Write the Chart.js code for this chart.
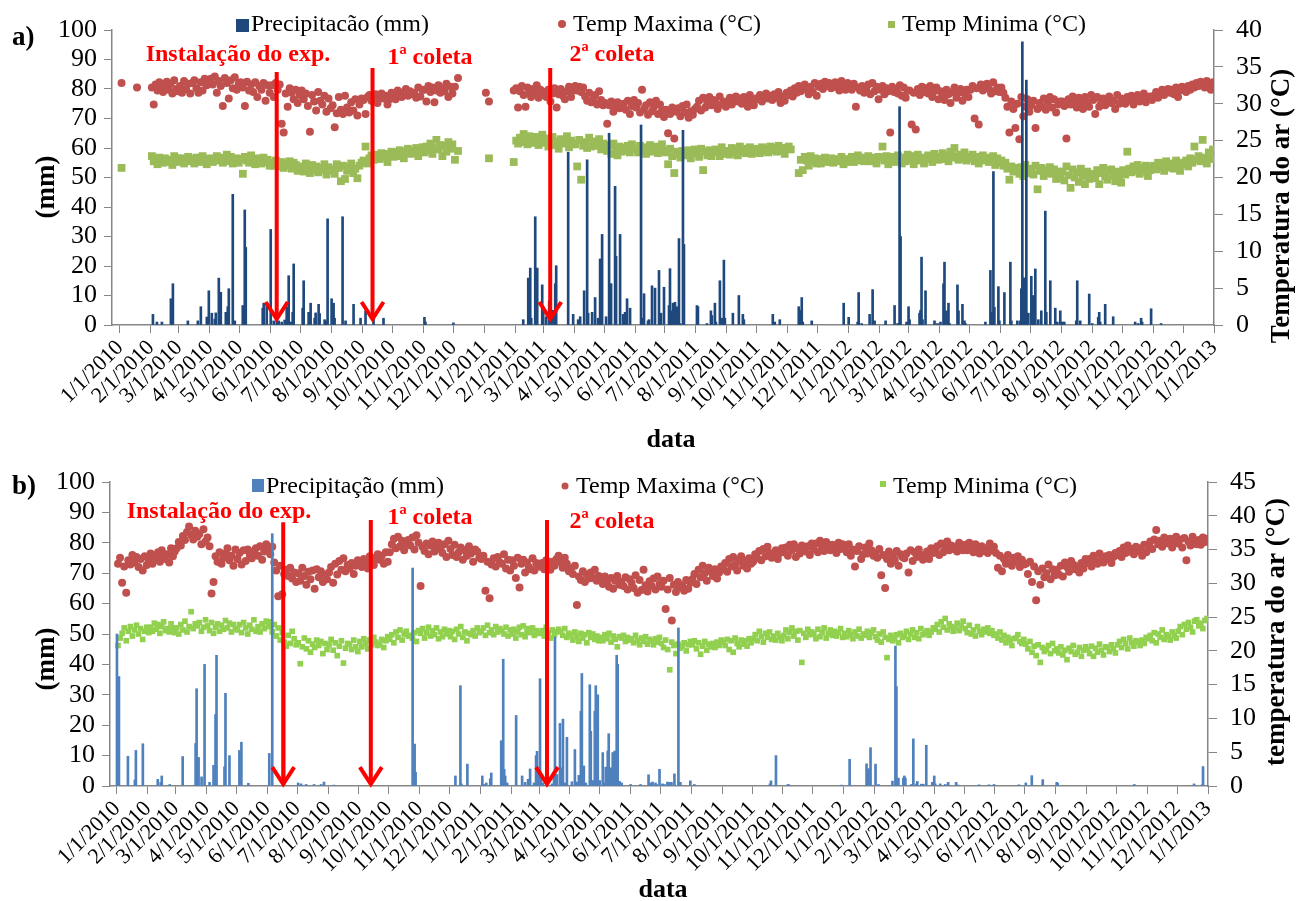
<!DOCTYPE html>
<html>
<head>
<meta charset="utf-8">
<script src="https://cdn.jsdelivr.net/npm/chart.js@4.4.1/dist/chart.umd.min.js"></script>
<style>
  html, body { margin: 0; padding: 0; background: #fff; }
  #wrap { position: relative; width: 1296px; height: 901px; overflow: hidden; }
  #wrap canvas { position: absolute; left: 0; }
  #chartA { top: 0; }
  #chartB { top: 450px; }
</style>
</head>
<body>
<div id="wrap">
  <canvas id="chartA" width="1296" height="450"></canvas>
  <canvas id="chartB" width="1296" height="451"></canvas>
</div>
<script>
// x tick labels (month starts)
const monthLabels = [
  "1/1/2010", "2/1/2010", "3/1/2010", "4/1/2010", "5/1/2010", "6/1/2010", "7/1/2010", "8/1/2010", "9/1/2010", "10/1/2010", "11/1/2010", "12/1/2010",
  "1/1/2011", "2/1/2011", "3/1/2011", "4/1/2011", "5/1/2011", "6/1/2011", "7/1/2011", "8/1/2011", "9/1/2011", "10/1/2011", "11/1/2011", "12/1/2011",
  "1/1/2012", "2/1/2012", "3/1/2012", "4/1/2012", "5/1/2012", "6/1/2012", "7/1/2012", "8/1/2012", "9/1/2012", "10/1/2012", "11/1/2012", "12/1/2012",
  "1/1/2013"
];

// ---- panel a) ----
// temperatures, readings spread evenly over each month (Jan 2010 .. Dec 2012), null = no data
const tmaxA = [
  [32.8, null, null, null, null, 32.2, null, null, null, null],
  [32.2, 29.9, 32.6, 31.8, 32.9, 32.3, 31.6, 32.5, 33.0, 31.9, 32.7, 31.4, 33.2, 32.0, 31.7],
  [32.4, 31.5, 33.1, 32.0, 32.7, 31.4, 32.8, 33.2, 32.1, 31.5, 32.9, 31.8, 33.4, 32.5, 33.0],
  [33.4, 32.6, 33.7, 31.5, 33.1, 32.4, 29.7, 33.5, 32.8, 30.7, 33.2, 32.1, 33.6, 31.9, 32.7],
  [32.9, 32.2, 29.7, 33.0, 31.8, 32.6, 31.6, 32.9, 30.9, 32.4, 31.9, 32.8, 30.4, 32.5, 31.5],
  [32.5, 30.9, 32.8, 31.9, 32.6, 27.3, 26.1, 31.4, 29.6, 32.1, 31.5, 30.6, 31.9, 30.1, 31.2],
  [31.8, 30.6, 31.4, 29.7, 26.2, 31.2, 30.3, 29.1, 31.6, 30.4, 29.9, 31.1, 28.9, 30.7, 29.4],
  [29.8, 26.8, 28.7, 30.9, 29.2, 28.6, 31.1, 29.5, 28.8, 30.2, 29.1, 30.6, 28.4, 29.9, 30.7],
  [30.5, 28.6, 30.9, 31.2, 30.4, 30.8, 31.3, 30.1, 30.9, 31.4, 30.7, 31.1, 29.9, 30.6, 31.5],
  [31.2, 30.6, 31.8, 31.4, 30.9, 31.6, 32.0, 31.1, 31.7, 31.3, 31.5, 30.8, 32.2, 31.0, 31.9],
  [31.9, 30.3, 32.4, 31.6, 32.2, 30.2, 31.8, 32.5, 31.5, 32.1, 31.7, 32.7, 30.9, 32.3, 31.4],
  [32.3, 33.5, null, null, null, null, null, null, null, null],
  [31.5, 30.3, null, null, null, null, null, null, null, 31.8],
  [32.1, 29.5, 31.7, 32.4, 31.2, 29.6, 32.2, 31.5, 30.9, 32.0, 31.4, 32.5, 30.8, 31.9, 31.2],
  [31.6, 30.9, 31.9, 30.3, 31.4, 32.1, 29.5, 31.3, 32.0, 31.1, 30.6, 31.7, 32.3, 30.9, 31.8],
  [32.4, 31.8, 32.3, 31.6, 32.2, 31.0, 30.4, 31.5, 30.2, 30.6, 31.2, 29.9, 31.7, 30.5, 29.8],
  [30.1, 27.3, 29.8, 30.3, 28.9, 29.6, 30.2, 29.4, 29.9, 30.0, 29.2, 30.4, 28.6, 29.7, 30.5],
  [29.5, 30.1, 28.8, 31.9, 29.3, 29.8, 28.5, 30.2, 29.0, 29.6, 30.4, 28.6, 29.9, 29.1, 28.2],
  [29.2, 26.0, 28.6, 29.5, 25.3, 28.9, 29.4, 28.3, 29.7, 28.8, 29.9, 28.1, 29.0, 28.5, 29.3],
  [29.6, 30.4, 29.1, 30.8, 29.5, 30.2, 30.9, 29.8, 30.5, 30.1, 29.3, 31.0, 29.9, 30.3, 29.6],
  [30.2, 30.8, 29.9, 30.6, 31.0, 30.3, 30.7, 30.0, 30.9, 30.4, 29.6, 31.2, 30.5, 29.8, 30.7],
  [30.6, 31.2, 30.3, 30.9, 31.4, 30.7, 31.1, 30.5, 31.3, 30.8, 31.6, 30.1, 31.0, 30.4, 31.5],
  [31.2, 31.8, 31.0, 32.1, 31.5, 32.4, 31.7, 32.0, 32.6, 31.9, 31.3, 32.3, 31.6, 32.8, 31.1],
  [32.3, 32.7, 32.0, 33.0, 32.4, 32.8, 32.1, 32.6, 32.9, 32.2, 31.8, 33.1, 32.5, 31.9, 32.8],
  [32.5, 31.9, 32.7, 29.6, 32.2, 31.8, 32.4, 31.5, 32.0, 32.6, 31.3, 32.8, 31.7, 32.3, 30.6],
  [31.9, 32.4, 31.3, 32.1, 31.7, 26.1, 32.3, 31.6, 32.0, 31.4, 32.5, 31.1, 32.2, 30.8, 31.8],
  [31.8, 27.2, 31.5, 26.5, 32.0, 31.2, 32.3, 31.6, 32.1, 31.4, 32.4, 30.9, 31.7, 32.2, 30.6],
  [31.7, 31.2, 30.5, 31.9, 31.3, 30.1, 31.6, 32.2, 30.8, 31.5, 32.0, 30.4, 31.4, 31.9, 30.9],
  [31.9, 32.4, 28.0, 32.1, 27.2, 32.6, 31.8, 32.3, 32.7, 32.0, 31.4, 32.9, 31.7, 32.2, 31.6],
  [32.2, 31.5, 30.8, 29.6, 26.1, 30.3, 29.3, 26.7, 30.0, 25.2, 30.9, 28.3, 29.6, 30.6, 28.9],
  [29.8, 30.4, 26.7, 29.3, 30.1, 29.6, 30.7, 29.2, 30.2, 30.9, 29.5, 30.6, 28.8, 29.9, 30.3],
  [30.3, 29.7, 25.3, 30.6, 29.9, 31.0, 30.4, 29.5, 30.8, 30.1, 29.3, 30.9, 30.2, 29.6, 31.2],
  [30.5, 28.6, 30.9, 29.6, 30.2, 30.7, 29.8, 30.4, 31.0, 30.1, 30.4, 29.3, 31.2, 30.0, 30.7],
  [30.6, 30.0, 30.9, 30.4, 31.1, 29.9, 30.7, 31.2, 30.3, 30.8, 31.4, 30.2, 30.8, 31.0, 30.5],
  [31.1, 31.6, 30.8, 31.4, 31.9, 31.2, 31.7, 32.0, 31.5, 31.9, 31.3, 32.2, 30.9, 31.8, 32.3],
  [32.0, 31.6, 32.4, 31.9, 32.6, 32.2, 32.8, 32.4, 33.0, 32.7, 32.2, 33.1, 32.5, 31.9, 32.9]
];
const tminA = [
  [21.3, null, null, null, null, null, null, null, null, null],
  [22.9, 22.2, 22.5, 21.8, 22.7, 22.3, 22.0, 22.6, 22.4, 22.1, 22.4, 21.7, 22.9, 22.1, 22.6],
  [22.3, 22.6, 21.9, 22.4, 22.8, 22.2, 22.5, 21.9, 22.7, 22.4, 22.1, 22.9, 22.5, 21.8, 22.3],
  [22.6, 22.1, 22.5, 22.9, 22.3, 22.7, 22.0, 22.4, 23.1, 22.2, 22.8, 21.9, 22.4, 22.6, 22.0],
  [22.5, 20.5, 22.8, 22.3, 22.0, 23.0, 22.4, 21.8, 22.6, 22.2, 21.9, 22.7, 22.1, 22.4, 21.6],
  [22.0, 21.6, 22.3, 21.8, 21.5, 22.1, 21.3, 21.9, 21.6, 22.2, 21.2, 22.0, 21.7, 20.9, 21.5],
  [21.4, 20.8, 21.9, 21.2, 20.6, 21.7, 21.0, 21.5, 20.7, 21.3, 21.0, 21.8, 20.4, 21.4, 20.9],
  [21.1, 20.5, 21.8, 21.3, 19.5, 21.6, 19.8, 20.9, 21.4, 21.9, 20.6, 21.2, 19.9, 21.6, 22.0],
  [22.3, 24.2, 21.9, 22.6, 23.0, 22.4, 22.8, 23.1, 22.5, 23.3, 22.7, 23.2, 22.1, 22.9, 23.5],
  [22.8, 23.4, 22.9, 23.7, 23.1, 22.6, 23.5, 23.9, 23.2, 23.6, 23.3, 24.0, 22.9, 23.8, 24.1],
  [23.4, 24.2, 23.7, 24.6, 23.2, 24.0, 25.1, 23.8, 24.4, 22.9, 24.3, 23.5, 24.8, 23.9, 24.5],
  [22.4, 23.6, null, null, null, null, null, null, null, null],
  [null, 22.6, null, null, null, null, null, null, null, 22.1],
  [25.0, 24.6, 25.4, 24.8, 25.9, 25.2, 24.5, 25.6, 24.9, 25.3, 24.7, 25.5, 24.4, 25.1, 25.8],
  [24.7, 25.3, 24.2, 25.0, 25.5, 24.4, 24.9, 23.9, 25.2, 24.6, 24.8, 25.6, 24.1, 25.0, 24.5],
  [24.5, 21.5, 25.1, 19.7, 24.3, 24.8, 24.0, 25.4, 24.2, 24.7, 24.9, 24.3, 25.2, 23.8, 24.6],
  [24.1, 23.6, 24.4, 23.2, 24.6, 23.8, 23.0, 24.2, 23.5, 24.0, 23.7, 24.3, 23.4, 24.5, 23.9],
  [23.9, 23.4, 24.3, 23.6, 24.1, 23.2, 23.8, 24.4, 23.5, 23.7, 24.2, 23.3, 23.9, 24.5, 23.6],
  [23.4, 21.8, 23.9, 22.9, 20.6, 23.5, 23.1, 22.7, 23.6, 23.2, 23.0, 23.7, 22.6, 23.3, 23.8],
  [23.3, 22.8, 23.9, 21.0, 23.5, 23.0, 23.7, 22.9, 23.4, 23.8, 23.6, 22.9, 24.1, 23.2, 23.5],
  [23.6, 23.1, 24.0, 23.4, 23.8, 23.0, 24.2, 23.5, 23.9, 23.3, 23.7, 24.1, 23.2, 23.9, 23.5],
  [23.8, 23.3, 24.1, 23.6, 23.9, 23.4, 24.2, 23.7, 24.0, 23.5, 24.3, 23.6, 24.0, 23.2, 23.9],
  [24.2, 23.8, null, null, null, 20.6, 22.4, 21.0, 22.8, 22.3, 21.6, 22.9, 22.2, 22.6, 21.9],
  [22.5, 21.9, 22.3, 22.7, 22.1, 22.4, 22.6, 22.0, 22.5, 22.2, 22.3, 22.8, 21.8, 22.5, 22.1],
  [22.4, 22.8, 22.1, 22.6, 23.0, 22.3, 22.7, 22.2, 22.5, 22.9, 22.2, 22.7, 22.4, 21.9, 22.8],
  [22.6, 24.2, 22.3, 22.9, 21.8, 22.5, 22.8, 22.1, 22.6, 23.0, 22.4, 21.9, 22.7, 22.2, 23.1],
  [22.4, 22.9, 21.8, 22.6, 23.1, 22.3, 22.7, 21.9, 22.5, 23.0, 22.6, 22.1, 23.2, 22.8, 22.4],
  [22.8, 23.3, 22.5, 23.0, 22.2, 23.5, 22.7, 24.0, 22.9, 22.4, 23.1, 22.6, 23.4, 22.3, 22.8],
  [22.6, 23.1, 22.2, 22.8, 21.9, 22.5, 23.0, 22.3, 22.7, 22.1, 22.4, 22.9, 21.7, 22.6, 22.0],
  [22.3, 21.6, 22.0, 21.2, 19.7, 21.5, 20.8, 21.3, 21.0, 20.5, 21.4, 20.2, 21.7, 20.6, 21.1],
  [21.2, 20.4, 21.6, 18.4, 20.9, 21.3, 20.2, 21.0, 20.6, 21.4, 20.5, 21.1, 19.8, 20.8, 19.9],
  [20.8, 19.6, 21.5, 20.3, 18.6, 21.1, 20.0, 20.7, 19.4, 21.2, 20.2, 19.1, 20.8, 19.8, 20.5],
  [20.5, 19.9, 21.0, 19.1, 20.6, 21.3, 20.2, 19.7, 20.9, 21.1, 20.3, 19.5, 20.8, 20.0, 19.3],
  [21.0, 20.4, 23.5, 21.2, 20.7, 21.5, 20.9, 21.7, 20.5, 21.3, 20.8, 21.6, 20.2, 21.0, 21.4],
  [21.6, 21.1, 22.0, 21.4, 21.8, 20.9, 22.2, 21.5, 21.9, 21.3, 21.2, 22.3, 21.7, 20.9, 22.0],
  [21.8, 22.3, 21.5, 22.6, 22.0, 24.2, 22.4, 22.9, 22.2, 25.1, 22.7, 21.9, 23.4, 22.5, 23.8]
];
// rain events: day number counted from 1/1/2010, and mm
const rainDaysA = [33, 37, 42, 51, 53, 68, 78, 81, 87, 89, 92, 95, 96, 99, 101, 106, 108, 109, 113, 115, 123, 125, 126, 143, 144,
  147, 151, 154, 157, 159, 162, 165, 167, 169, 171, 173, 174, 183, 184, 189, 191, 195, 196, 199, 200, 205, 206, 208, 212, 214,
  215, 223, 226, 234, 241, 246, 254, 264, 305, 306, 334,
  404, 409, 411, 412, 416, 418, 423, 424, 427, 430, 432, 434, 436, 437, 449, 454, 459, 461, 465, 468, 469, 473, 476, 479, 481,
  483, 487, 490, 492, 496, 497, 501, 504, 506, 508, 511, 522, 523, 525, 529, 530, 533, 536, 540, 542, 545, 550, 551, 552, 554,
  556, 558, 560, 561, 564, 565, 578, 579, 588, 592, 593, 596, 597, 601, 603, 605, 606, 614, 620, 624, 625, 654, 656, 661, 680,
  681, 683, 684, 693, 725, 730, 739, 740, 743, 751, 754, 756, 767, 776, 779, 781, 782, 788, 790, 791, 801, 802, 803, 804, 807,
  816, 819, 822, 825, 826, 828, 830, 831, 839, 840, 844, 846, 847, 867, 872, 873, 875, 876, 880, 881, 886, 892, 893, 899, 902,
  903, 904, 906, 908, 910, 913, 914, 915, 917, 920, 923, 927, 928, 932, 937, 939, 942, 944, 946, 958, 959, 962, 971, 974, 980,
  981, 982, 987, 995, 1017, 1020, 1023, 1024, 1033, 1043];
const rainA = [3.6, 1, 1, 8.9, 14, 1.4, 1.4, 6.2, 2.7, 11.6, 4, 2, 4.1, 15.9, 11.1, 4.3, 6.2, 12.3, 44.3, 1.4, 6.6, 39, 26.3, 5.7, 7.4,
  7.4, 32.4, 1.4, 5.1, 1.4, 1, 1.7, 6, 16.7, 1, 4.3, 20.7, 5.7, 15, 4.3, 7.4, 2.3, 4.1, 7, 3.9, 1.8, 1.4, 36, 8.9, 7.4,
  2.3, 36.7, 1.4, 7, 2.3, 4.8, 2.8, 2.3, 2.6, 1, 0.7,
  1.8, 15.9, 19.3, 2.3, 36.7, 19.3, 13.6, 6.2, 2.8, 8.2, 3.5, 5, 14, 20.1, 58.6, 3.6, 1.8, 2.8, 11.6, 56, 4, 4.3, 9.3, 2.3, 22.4,
  30.7, 2.8, 65, 14, 47, 23.3, 30.7, 3.6, 4.3, 8.9, 5.7, 67.8, 2.3, 10.6, 1.4, 1.8, 13.3, 12.5, 18.5, 4, 12.8, 6.6, 19.1, 4.8, 7.4,
  7.7, 6.2, 29.3, 0.5, 66, 27.3, 6.6, 6.2, 0.5, 4.8, 3.2, 7.4, 1, 15, 2.3, 22, 2.3, 4, 10, 3.6, 1.8, 3.6, 1, 1.8, 6.2,
  5, 9.3, 1, 1.4, 7.4, 2.6, 1, 11, 0.5, 3.6, 12, 1.4, 1.4, 6.6, 0.5, 74, 30, 1, 6.2, 1.8, 4, 5, 23, 1.8, 11.6,
  1.4, 0.5, 1, 14, 21.3, 4.8, 7.4, 0.5, 13.6, 4.8, 7, 1.4, 0.5, 1, 18.5, 4.3, 52, 6, 13, 1.4, 11, 21.3, 1.4, 1.4, 1.4,
  12.3, 96, 16, 83, 4, 16.5, 3.6, 10, 19, 1.8, 4.8, 38.6, 4.3, 15, 5.7, 1, 4.8, 1, 1, 1.4, 15, 1.4, 10.5, 0.5, 2.6,
  4.3, 1, 7, 2.8, 1, 0.5, 2.3, 1, 5.5, 0.5];

// ---- panel b) ----
const tmaxB = [
  [32.9, 33.8, 30.1, 32.5, 28.6, 33.4, 32.8, 34.2, 33.1, 33.9, 32.4, 33.6, 31.9, 34.0, 32.7],
  [33.5, 34.4, 32.9, 34.0, 33.7, 34.6, 33.2, 34.9, 34.1, 33.6, 34.3, 33.1, 35.2, 34.0, 34.7],
  [35.2, 36.1, 35.6, 37.0, 36.4, 37.6, 38.4, 37.2, 36.5, 37.8, 36.9, 37.3, 35.8, 38.0, 36.2],
  [36.8, 35.5, 28.5, 30.2, 34.0, 33.2, 34.6, 32.9, 33.8, 34.4, 35.2, 33.4, 34.1, 32.6, 35.0],
  [33.6, 34.5, 32.8, 34.9, 33.3, 35.0, 34.2, 33.7, 34.8, 35.2, 34.1, 35.5, 33.5, 34.7, 35.8],
  [35.0, 34.3, 35.4, 33.1, 31.9, 28.1, 32.6, 28.4, 31.4, 32.0, 31.1, 32.3, 30.7, 31.6, 30.2],
  [31.5, 30.4, 32.3, 31.1, 29.8, 31.7, 30.6, 31.9, 29.2, 32.1, 30.9, 31.8, 30.2, 31.3, 30.6],
  [31.6, 32.4, 30.1, 32.9, 31.3, 33.3, 32.0, 33.7, 31.8, 32.7, 32.2, 33.0, 31.4, 32.6, 33.4],
  [33.0, 32.4, 33.6, 33.1, 32.2, 34.0, 33.4, 32.7, 33.8, 34.3, 33.5, 34.1, 32.9, 34.6, 33.2],
  [34.6, 35.8, 36.6, 35.2, 36.9, 35.5, 36.3, 34.9, 35.9, 36.4, 35.6, 36.8, 35.0, 37.1, 36.0],
  [29.6, 35.4, 34.8, 35.9, 34.3, 35.6, 36.2, 34.7, 35.3, 36.0, 35.1, 34.5, 35.8, 33.9, 36.3],
  [35.1, 34.2, 35.7, 33.9, 34.6, 35.3, 33.5, 34.9, 34.1, 35.5, 34.4, 33.2, 35.0, 34.7, 33.8],
  [33.6, 34.1, 28.9, 33.2, 27.8, 32.8, 33.7, 32.5, 33.9, 33.1, 32.9, 34.3, 32.2, 33.5, 31.9],
  [33.4, 32.6, 30.8, 33.8, 29.4, 32.9, 33.5, 31.6, 33.1, 32.4, 32.1, 33.7, 31.9, 33.0, 32.5],
  [32.5, 33.0, 32.1, 33.4, 32.7, 32.0, 33.2, 32.6, 33.6, 34.1, 33.1, 32.3, 33.8, 32.9, 31.8],
  [32.2, 31.4, 32.6, 26.8, 31.0, 30.5, 31.8, 30.2, 31.3, 30.7, 31.6, 30.8, 32.0, 30.4, 31.1],
  [30.6, 29.9, 31.0, 30.3, 29.5, 30.8, 29.2, 30.4, 31.1, 29.8, 30.2, 29.6, 30.9, 29.1, 30.6],
  [30.1, 29.3, 31.2, 28.6, 30.5, 29.0, 32.0, 29.7, 28.8, 30.3, 29.6, 30.7, 29.1, 31.0, 29.9],
  [29.5, 30.4, 26.2, 29.1, 30.8, 24.5, 29.8, 28.7, 30.2, 29.4, 29.7, 28.9, 30.5, 29.2, 30.1],
  [30.6, 31.4, 29.9, 32.0, 30.9, 32.6, 31.5, 30.4, 32.3, 31.8, 31.1, 32.1, 30.7, 31.6, 32.5],
  [32.1, 33.0, 31.7, 33.6, 32.5, 33.9, 32.8, 31.9, 33.4, 34.0, 32.6, 33.3, 32.2, 33.7, 32.9],
  [33.2, 34.3, 33.7, 34.8, 33.4, 35.1, 34.0, 35.4, 34.5, 33.8, 34.1, 34.9, 33.6, 34.5, 35.2],
  [34.6, 35.3, 34.1, 35.7, 34.9, 35.8, 33.9, 35.2, 34.4, 35.6, 35.0, 34.7, 35.5, 34.2, 35.9],
  [35.0, 35.9, 34.6, 36.3, 35.3, 34.8, 36.1, 35.5, 34.9, 35.7, 35.4, 34.5, 36.0, 35.1, 35.8],
  [35.2, 34.6, 35.8, 34.1, 35.0, 32.5, 34.8, 35.5, 33.6, 34.3, 35.3, 34.4, 35.9, 34.9, 34.1],
  [34.5, 33.8, 35.1, 31.2, 34.2, 29.3, 33.6, 34.7, 32.9, 34.0, 33.4, 34.8, 32.6, 34.3, 33.9],
  [33.7, 34.4, 31.6, 34.9, 33.3, 34.6, 33.9, 35.0, 34.2, 33.5, 34.1, 34.7, 33.6, 35.2, 34.5],
  [34.8, 35.5, 34.2, 35.9, 34.6, 35.3, 36.2, 34.9, 35.6, 35.1, 35.4, 34.7, 36.0, 35.2, 34.9],
  [35.7, 34.9, 36.0, 35.3, 34.6, 35.8, 35.0, 34.4, 35.5, 34.8, 35.2, 34.5, 35.9, 34.9, 35.4],
  [34.5, 32.3, 34.1, 31.8, 33.6, 32.9, 34.2, 33.1, 32.6, 33.8, 33.3, 34.0, 32.4, 33.5, 32.8],
  [32.9, 31.4, 33.2, 30.2, 32.5, 27.5, 31.8, 29.8, 32.2, 30.9, 31.5, 32.8, 30.6, 32.1, 31.2],
  [32.0, 31.3, 32.6, 31.0, 33.1, 32.4, 31.7, 33.3, 32.8, 32.1, 32.5, 31.6, 33.0, 32.2, 33.6],
  [33.0, 33.6, 32.5, 34.1, 33.3, 32.9, 34.4, 33.7, 33.1, 34.0, 33.6, 34.2, 33.0, 33.9, 34.5],
  [34.2, 34.8, 33.9, 35.3, 34.5, 35.6, 34.7, 35.1, 34.3, 35.4, 34.8, 35.2, 34.1, 35.7, 34.6],
  [35.6, 36.2, 35.1, 36.5, 37.9, 35.8, 36.3, 35.4, 36.8, 36.0, 35.9, 36.6, 35.3, 36.1, 36.9],
  [35.9, 36.5, 35.3, 36.7, 33.4, 36.2, 35.6, 36.9, 36.3, 35.8, 36.4, 35.7, 36.8, 36.1, 36.6]
];
const tminB = [
  [20.8, 21.9, 22.6, 23.4, 21.5, 22.9, 23.6, 22.2, 23.1, 23.8, 22.5, 23.3, 21.7, 22.9, 23.5],
  [22.7, 23.5, 22.9, 24.1, 23.2, 23.9, 22.6, 23.6, 24.3, 23.0, 23.3, 22.8, 24.0, 23.4, 22.7],
  [23.4, 22.5, 23.9, 23.1, 24.4, 22.8, 23.6, 25.8, 23.3, 24.0, 23.7, 24.2, 22.9, 23.5, 24.6],
  [23.7, 23.0, 24.2, 22.6, 23.5, 24.0, 22.9, 23.8, 23.2, 24.5, 23.4, 24.1, 22.8, 23.9, 23.3],
  [23.1, 23.9, 22.7, 24.2, 23.4, 22.5, 23.8, 23.2, 24.6, 22.9, 23.6, 22.8, 24.0, 23.3, 24.4],
  [23.6, 24.3, 22.8, 23.9, 22.2, 23.4, 21.6, 22.7, 21.3, 20.7, 22.3, 21.1, 22.9, 21.8, 20.9],
  [21.2, 18.1, 20.6, 21.9, 20.3, 21.5, 19.8, 21.0, 20.5, 21.6, 20.8, 21.4, 19.6, 21.1, 20.2],
  [20.9, 21.7, 20.1, 21.2, 19.3, 20.7, 21.5, 18.2, 20.4, 21.1, 21.0, 20.2, 21.6, 20.6, 19.9],
  [21.4, 20.6, 21.8, 21.1, 20.3, 21.6, 20.9, 22.0, 21.3, 20.8, 21.0, 21.7, 20.5, 21.5, 22.1],
  [21.7, 22.4, 21.2, 22.8, 22.0, 23.1, 21.6, 22.5, 22.9, 22.2, 22.3, 21.9, 22.7, 21.4, 23.0],
  [22.6, 23.3, 21.9, 22.7, 23.5, 22.2, 23.0, 22.4, 23.4, 21.8, 22.8, 22.1, 23.2, 22.5, 23.0],
  [22.1, 22.9, 21.7, 23.2, 22.5, 23.6, 22.0, 22.8, 21.5, 22.6, 22.4, 23.0, 22.2, 23.4, 22.7],
  [22.9, 23.4, 22.3, 23.8, 22.7, 23.1, 22.4, 23.6, 22.8, 23.3, 23.0, 22.5, 23.5, 22.2, 23.1],
  [22.5, 23.2, 21.9, 22.8, 23.5, 22.4, 23.7, 22.1, 22.9, 23.3, 22.7, 23.4, 22.3, 23.0, 22.6],
  [22.6, 23.0, 22.2, 23.5, 22.7, 21.9, 23.1, 22.4, 22.8, 23.2, 22.9, 22.3, 23.3, 22.0, 22.6],
  [22.3, 21.6, 22.8, 22.1, 21.4, 22.6, 21.9, 22.4, 21.2, 22.7, 22.0, 22.5, 21.7, 22.2, 21.5],
  [22.0, 21.5, 22.4, 21.8, 22.6, 21.3, 22.2, 21.7, 20.6, 22.1, 21.9, 22.3, 21.4, 22.0, 21.6],
  [21.8, 21.2, 22.3, 21.5, 20.9, 21.9, 21.4, 22.1, 21.0, 21.7, 21.5, 20.9, 21.8, 21.3, 22.0],
  [21.1, 20.5, 21.6, 20.2, 17.2, 21.3, 20.8, 19.6, 21.0, 20.4, 20.7, 21.2, 20.0, 20.9, 21.4],
  [20.9, 21.5, 20.3, 21.2, 19.5, 20.7, 21.4, 20.1, 21.0, 20.6, 21.1, 20.5, 21.3, 20.8, 21.6],
  [21.3, 20.8, 21.7, 20.2, 21.5, 19.8, 21.9, 21.1, 20.6, 21.6, 21.0, 21.5, 20.7, 21.8, 21.2],
  [21.8, 22.4, 21.5, 22.9, 22.1, 21.3, 22.6, 22.0, 22.8, 21.7, 22.2, 21.6, 22.6, 22.0, 21.5],
  [22.3, 23.1, 21.8, 22.7, 23.4, 22.2, 22.9, 21.6, 23.0, 18.3, 22.6, 22.0, 23.2, 22.4, 22.8],
  [22.5, 21.8, 23.2, 22.1, 22.7, 23.4, 21.9, 22.6, 23.1, 22.3, 22.9, 22.2, 22.7, 23.3, 22.0],
  [22.6, 22.1, 23.0, 22.4, 21.8, 22.8, 22.2, 23.2, 21.9, 22.5, 22.3, 22.9, 22.0, 22.7, 23.1],
  [22.1, 21.6, 22.5, 21.3, 22.8, 22.0, 19.0, 21.7, 22.3, 21.5, 21.9, 22.4, 21.2, 22.6, 22.0],
  [22.2, 22.9, 21.7, 22.5, 23.1, 22.0, 22.7, 21.8, 23.3, 22.4, 22.6, 23.0, 22.3, 22.8, 23.4],
  [23.2, 23.9, 22.8, 24.3, 23.5, 24.8, 23.1, 24.0, 23.6, 22.9, 23.4, 24.1, 23.0, 23.7, 24.4],
  [23.3, 22.7, 23.8, 22.5, 23.1, 22.2, 23.6, 22.9, 22.4, 23.2, 22.8, 23.4, 22.6, 23.0, 22.3],
  [22.5, 21.9, 22.8, 21.6, 22.3, 21.2, 22.0, 21.5, 20.8, 21.8, 21.9, 22.4, 21.4, 21.1, 21.7],
  [21.0, 20.3, 21.4, 19.8, 20.7, 19.3, 20.9, 18.3, 20.5, 19.9, 20.2, 20.8, 19.6, 21.1, 20.0],
  [20.3, 19.7, 20.6, 19.4, 20.1, 18.7, 20.4, 19.9, 20.8, 19.5, 19.8, 20.5, 19.2, 20.1, 20.6],
  [20.2, 19.6, 20.7, 19.2, 20.4, 19.8, 21.0, 20.1, 19.4, 20.6, 20.5, 19.9, 20.9, 20.3, 19.7],
  [20.9, 21.4, 20.5, 21.7, 21.1, 20.3, 21.9, 21.2, 20.7, 21.5, 21.3, 20.8, 21.6, 21.1, 22.0],
  [21.8, 22.3, 21.5, 22.7, 21.2, 22.5, 22.0, 23.1, 21.7, 22.4, 22.1, 21.6, 22.8, 22.3, 21.9],
  [22.9, 23.6, 22.4, 23.9, 23.2, 24.2, 23.5, 22.8, 24.4, 24.6, 23.7, 24.1, 23.3, 24.5, 24.8]
];
const rainDaysB = [0, 1, 2, 11, 18, 19, 26, 41, 44, 45, 53, 66, 79, 80, 81, 82, 85, 88, 93, 97, 99, 100, 108, 109, 113,
  123, 125, 132, 153, 156, 168, 182, 185, 190, 198, 205, 208, 218, 297, 299, 300, 340, 345, 346, 352, 367, 369, 371, 375, 376,
  386, 388, 389, 390, 392, 401, 407, 410, 413, 415, 419, 421, 422, 423, 425, 426, 428, 437, 439, 440, 442, 445, 446, 448, 450,
  452, 457, 460, 462, 464, 466, 467, 469, 471, 475, 476, 478, 480, 481, 482, 483, 485, 488, 489, 491, 493, 494, 496, 498, 500,
  501, 502, 503, 505, 507, 516, 526, 534, 536, 538, 541, 542, 545, 548, 550, 553, 555, 557, 560, 564, 566, 576, 580, 656, 657,
  662, 674, 675, 728, 736, 753, 754, 755, 757, 762, 765, 779, 782, 783, 785, 790, 791, 792, 798, 800, 803, 804, 808, 810, 813,
  819, 821, 822, 827, 832, 835, 843, 845, 866, 876, 881, 906, 913, 919, 930, 944, 945, 1022, 1082, 1090, 1091];
const rainB = [50, 14, 36, 9.8, 2, 11.7, 13.9, 2.2, 1.2, 3.3, 0.5, 9.7, 14, 32, 9, 9.4, 3, 40, 1.2, 6.8, 23.5, 43, 6.3, 30.5, 10,
  11.7, 14.4, 0.9, 10.7, 83, 46, 1, 0.7, 0.5, 0.5, 0.5, 1.3, 0.3, 71.7, 13.8, 4.5, 3.3, 33, 0.7, 7.2, 3.3, 0.5, 1, 2.4, 4.3,
  14.9, 41.7, 5.5, 3.3, 1, 23.2, 3.3, 1.2, 2.2, 5.6, 1, 10, 11.4, 6.2, 35.3, 3, 1, 0.7, 4.6, 49, 3.8, 20.6, 6, 22, 1,
  16, 1.4, 12, 1.3, 3.5, 24.6, 37, 6.6, 1, 33.3, 18, 1.8, 24.6, 33, 17, 30, 1.8, 11, 1, 6.2, 11.5, 17.2, 6, 11, 11.5,
  1, 43, 40, 1.5, 1, 0.5, 0.5, 3.7, 1, 1.3, 1, 0.5, 5.5, 0.7, 0.5, 1.3, 1.2, 1.2, 4, 52, 1.2, 1.7, 0.5, 0.7, 1.7,
  10, 0.5, 0.4, 0.3, 8.8, 7.3, 4.5, 5.7, 12.6, 7.2, 0.5, 1.6, 46, 32.7, 2.6, 2.6, 3.3, 2.6, 0.5, 15.5, 0.7, 1.5, 0.6, 0.6, 13.4,
  1.2, 3.3, 0.7, 0.7, 0.5, 1.2, 1.2, 0.3, 0.4, 0.4, 0.5, 0.4, 1, 3.4, 2.1, 1.2, 0.9, 0.5, 0.7, 0.4, 6.4];

const serif = '"Liberation Serif", "Times New Roman", serif';
const axisGray = "#868686";
const t0 = Date.UTC(2010, 0, 1);

function dayOf(label) {
  const [m, d, y] = label.split("/").map(Number);
  return Math.round((Date.UTC(y, m - 1, d) - t0) / 86400000);
}
const tickDays = monthLabels.map(dayOf);

function monthlyPoints(rows) {
  const pts = [];
  rows.forEach((row, m) => {
    const start = tickDays[m];
    const span = (tickDays[m + 1] - start) / row.length;
    row.forEach((v, k) => {
      if (v != null) pts.push({ x: start + k * span + span / 2, y: v });
    });
  });
  return pts;
}

function rainPoints(days, vals) {
  return days.map((d, i) => ({ x: d, y: vals[i] }));
}

function drawText(ctx, str, x, y, font, color, align, rot) {
  ctx.save();
  ctx.font = font;
  ctx.fillStyle = color;
  ctx.textAlign = align || "left";
  ctx.textBaseline = "middle";
  ctx.translate(x, y);
  if (rot) ctx.rotate(rot);
  ctx.fillText(str, 0, 0);
  ctx.restore();
}

const decorPlugin = {
  id: "decor",
  afterDraw(chart, args, o) {
    const ctx = chart.ctx;
    const xs = chart.scales.x, ys = chart.scales.y;

    // red arrows
    ctx.save();
    ctx.strokeStyle = "#FF0000";
    ctx.lineWidth = 4;
    o.arrows.forEach(a => {
      const x = xs.getPixelForValue(dayOf(a.date));
      const yTop = ys.getPixelForValue(a.top);
      const yTip = ys.getPixelForValue(a.tip);
      ctx.beginPath();
      ctx.moveTo(x, yTop);
      ctx.lineTo(x, yTip - 2);
      ctx.stroke();
      ctx.beginPath();
      ctx.moveTo(x - 11, yTip - 18);
      ctx.lineTo(x, yTip - 1);
      ctx.lineTo(x + 11, yTip - 18);
      ctx.stroke();
    });
    ctx.restore();

    o.notes.forEach(n => drawText(ctx, n.text, n.x, n.y, "bold 24px " + serif, "#FF0000", "center"));

    // legend
    const lg = o.legend;
    ctx.fillStyle = o.barColor;
    ctx.fillRect(lg.rain[0], lg.rain[1], lg.rain[2], lg.rain[3]);
    drawText(ctx, o.rainLabel, lg.rain[0] + lg.rain[2] + 2, lg.y, "24px " + serif, "#000", "left");
    ctx.fillStyle = "#C0504D";
    ctx.beginPath();
    ctx.arc(lg.max[0], lg.max[1], lg.max[2], 0, Math.PI * 2);
    ctx.fill();
    drawText(ctx, "Temp Maxima (°C)", lg.max[0] + 11, lg.y, "24px " + serif, "#000", "left");
    ctx.fillStyle = o.minColor;
    ctx.fillRect(lg.min[0], lg.min[1], lg.min[2], lg.min[2]);
    drawText(ctx, "Temp Minima (°C)", lg.min[0] + lg.min[2] + 7, lg.y, "24px " + serif, "#000", "left");

    // panel letter and axis titles
    drawText(ctx, o.letter, 12, o.letterY, "bold 27px " + serif, "#000", "left");
    drawText(ctx, "(mm)", 47, o.mmY, "bold 27px " + serif, "#000", "center", -Math.PI / 2);
    drawText(ctx, o.rightTitle, o.rightX, o.rightY, "bold 27px " + serif, "#000", "center", -Math.PI / 2);
    drawText(ctx, "data", o.dataX, o.dataY, "bold 26px " + serif, "#000", "center");
  }
};

function buildChart(id, o) {
  const canvas = document.getElementById(id);
  const tickFont = { family: serif, size: 26 };
  return new Chart(canvas, {
    type: "scatter",
    data: {
      datasets: [
        {
          type: "bar",
          label: o.rainLabel,
          data: rainPoints(o.rainDays, o.rain),
          backgroundColor: o.barColor,
          borderWidth: 0,
          barThickness: 2,
          yAxisID: "y",
          order: 0
        },
        {
          label: "Temp Maxima (°C)",
          data: monthlyPoints(o.tmax),
          yAxisID: "y2",
          pointStyle: "circle",
          pointRadius: 4,
          backgroundColor: "#C0504D",
          borderWidth: 0,
          order: 1
        },
        {
          label: "Temp Minima (°C)",
          data: monthlyPoints(o.tmin),
          yAxisID: "y2",
          pointStyle: "rect",
          pointRadius: o.minRadius,
          backgroundColor: o.minColor,
          borderWidth: 0,
          order: 2
        }
      ]
    },
    options: {
      responsive: false,
      animation: false,
      devicePixelRatio: 1,
      events: [],
      layout: { padding: { top: o.top, left: 0, right: 0, bottom: 0 } },
      plugins: {
        legend: { display: false },
        tooltip: { enabled: false },
        decor: o.decor
      },
      scales: {
        x: {
          type: "linear",
          min: o.xMin,
          max: 1096,
          offset: false,
          afterBuildTicks: s => { s.ticks = tickDays.map(v => ({ value: v })); },
          afterFit: s => { s.height = canvas.height - o.bottom; },
          grid: { drawOnChartArea: false, tickLength: 8, color: axisGray, offset: false },
          border: { color: axisGray, width: 1.5 },
          ticks: {
            autoSkip: false,
            minRotation: 45,
            maxRotation: 45,
            padding: 2,
            color: "#000",
            font: { family: serif, size: 22 },
            callback: (v, i) => monthLabels[i]
          }
        },
        y: {
          position: "left",
          min: 0,
          max: 100,
          afterFit: s => { s.width = o.left; },
          grid: { drawOnChartArea: false, tickLength: 8, color: axisGray },
          border: { color: axisGray, width: 1.5 },
          ticks: { stepSize: 10, autoSkip: false, padding: 7, color: "#000", font: tickFont }
        },
        y2: {
          position: "right",
          min: 0,
          max: o.tMax,
          afterFit: s => { s.width = canvas.width - o.right; },
          grid: { drawOnChartArea: false, tickLength: 9, color: axisGray },
          border: { color: axisGray, width: 1.5 },
          ticks: { stepSize: 5, autoSkip: false, padding: 13, color: "#000", font: tickFont }
        }
      }
    },
    plugins: [decorPlugin]
  });
}

buildChart("chartA", {
  rainDays: rainDaysA, rain: rainA, tmax: tmaxA, tmin: tminA,
  rainLabel: "Precipitacão (mm)", barColor: "#1F497D", minColor: "#9BBB59", minRadius: 5.5,
  top: 30, bottom: 325, left: 112, right: 1214, xMin: -8, tMax: 40,
  decor: {
    rainLabel: "Precipitacão (mm)", barColor: "#1F497D", minColor: "#9BBB59",
    arrows: [
      { date: "6/7/2010", top: 85.8, tip: 1.7 },
      { date: "9/11/2010", top: 87.1, tip: 1.7 },
      { date: "3/8/2011", top: 87.1, tip: 1.7 }
    ],
    notes: [
      { text: "Instalação do exp.", x: 238, y: 55 },
      { text: "1ª coleta", x: 430, y: 58 },
      { text: "2ª coleta", x: 612, y: 55 }
    ],
    legend: { y: 25, rain: [236, 19, 13, 13], max: [562, 24, 4], min: [888, 21, 7] },
    letter: "a)", letterY: 38, mmY: 187,
    rightTitle: "Temperatura do ar (°C)", rightX: 1282, rightY: 206,
    dataX: 671, dataY: 440
  }
});

buildChart("chartB", {
  rainDays: rainDaysB, rain: rainB, tmax: tmaxB, tmin: tminB,
  rainLabel: "Precipitação (mm)", barColor: "#4F81BD", minColor: "#92D050", minRadius: 4,
  top: 32, bottom: 336, left: 110, right: 1208, xMin: -7, tMax: 45,
  decor: {
    rainLabel: "Precipitação (mm)", barColor: "#4F81BD", minColor: "#92D050",
    arrows: [
      { date: "6/17/2010", top: 86.8, tip: 0.3 },
      { date: "9/13/2010", top: 87.5, tip: 0.3 },
      { date: "3/9/2011", top: 87.5, tip: 0.3 }
    ],
    notes: [
      { text: "Instalação do exp.", x: 219, y: 62 },
      { text: "1ª coleta", x: 430, y: 68 },
      { text: "2ª coleta", x: 612, y: 72 }
    ],
    legend: { y: 37, rain: [252, 29, 12, 13], max: [565, 36, 3.5], min: [880, 31, 6] },
    letter: "b)", letterY: 37, mmY: 209,
    rightTitle: "temperatura do ar (°C)", rightX: 1277, rightY: 182,
    dataX: 663, dataY: 440
  }
});
</script>
</body>
</html>
